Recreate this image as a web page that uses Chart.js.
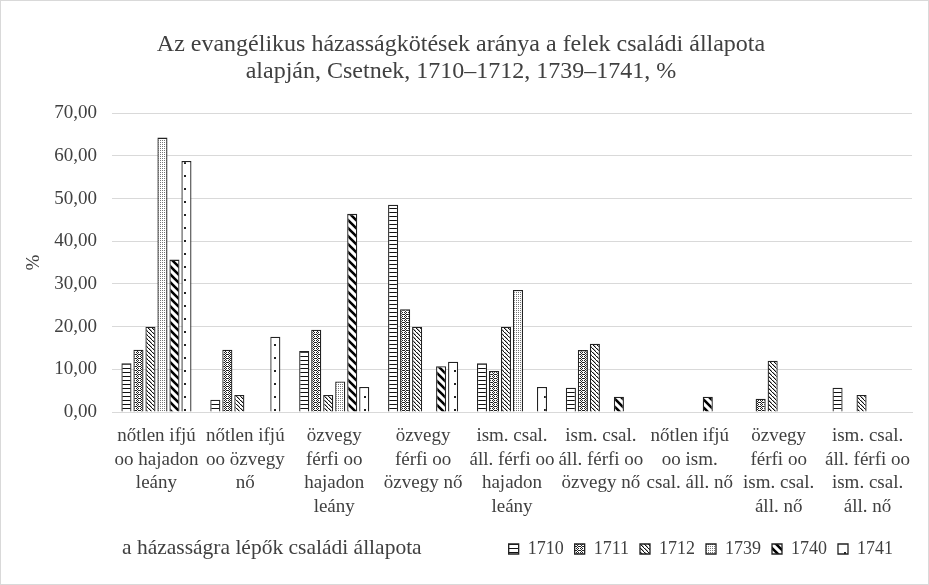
<!DOCTYPE html>
<html>
<head>
<meta charset="utf-8">
<script src="https://cdn.jsdelivr.net/npm/chart.js@4"></script>
<style>
  html, body { margin: 0; padding: 0; background: #fff; }
  #wrap { width: 929px; height: 585px; }
</style>
</head>
<body>
<div id="wrap"><canvas id="myChart" width="929" height="585"></canvas></div>
<script>
// categories (multi-line, as in the source chart)
const categories = [
    ['nőtlen ifjú', 'oo hajadon', 'leány'],
    ['nőtlen ifjú', 'oo özvegy', 'nő'],
    ['özvegy', 'férfi oo', 'hajadon', 'leány'],
    ['özvegy', 'férfi oo', 'özvegy nő'],
    ['ism. csal.', 'áll. férfi oo', 'hajadon', 'leány'],
    ['ism. csal.', 'áll. férfi oo', 'özvegy nő'],
    ['nőtlen ifjú', 'oo ism.', 'csal. áll. nő'],
    ['özvegy', 'férfi oo', 'ism. csal.', 'áll. nő'],
    ['ism. csal.', 'áll. férfi oo', 'ism. csal.', 'áll. nő']
];

const years = ['1710', '1711', '1712', '1739', '1740', '1741'];

const v1710 = [11.43, 2.86, 14.29, 48.57, 11.43, 5.71, 0, 0, 5.71];
const v1711 = [14.6, 14.6, 19.3, 24.1, 9.6, 14.5, 0, 3.1, 0];
const v1712 = [20.0, 4.0, 4.0, 20.0, 20.0, 16.0, 0, 12.0, 4.0];
const v1739 = [64.29, 0, 7.14, 0, 28.57, 0, 0, 0, 0];
const v1740 = [35.71, 0, 46.43, 10.71, 0, 3.57, 3.57, 0, 0];
const v1741 = [58.82, 17.65, 5.88, 11.76, 5.88, 0, 0, 0, 0];

const yTicks = [0, 10, 20, 30, 40, 50, 60, 70];

const titleLines = ['Az evangélikus házasságkötések aránya a felek családi állapota',
                    'alapján, Csetnek, 1710–1712, 1739–1741, %'];
const xTitle = 'a házasságra lépők családi állapota';
const yTitle = '%';

const FONT = "'Liberation Serif', 'Times New Roman', serif";
const TXT = '#404040';

// fill patterns, roughly like the Excel ones
function makePattern(kind) {
    let c = document.createElement('canvas');
    let g = c.getContext('2d');
    if (kind == 'hlines') {
        c.width = 4; c.height = 4;
        g.fillStyle = '#fff'; g.fillRect(0, 0, 4, 4);
        g.fillStyle = '#111'; g.fillRect(0, 0, 4, 1);
    } else if (kind == 'diamond') {
        c.width = 4; c.height = 4;
        g.fillStyle = '#fff'; g.fillRect(0, 0, 4, 4);
        g.fillStyle = '#222';
        g.fillRect(0, 0, 1, 1); g.fillRect(2, 0, 1, 1);
        g.fillRect(1, 1, 1, 1); g.fillRect(3, 2, 1, 1);
        g.fillRect(0, 2, 1, 1); g.fillRect(1, 3, 1, 1); g.fillRect(2, 2, 1, 1);
    } else if (kind == 'diag') {
        c.width = 4; c.height = 4;
        g.fillStyle = '#fff'; g.fillRect(0, 0, 4, 4);
        g.fillStyle = '#111';
        for (let i = 0; i < 4; i++) g.fillRect(i, i, 1, 1);
        g.fillStyle = '#aaa';
        for (let i = 0; i < 3; i++) g.fillRect(i + 1, i, 1, 1);
    } else if (kind == 'dots') {
        c.width = 2; c.height = 2;
        g.fillStyle = '#fff'; g.fillRect(0, 0, 2, 2);
        g.fillStyle = '#777'; g.fillRect(0, 0, 1, 1);
    } else if (kind == 'bigdiag') {
        c.width = 8; c.height = 8;
        g.fillStyle = '#fff'; g.fillRect(0, 0, 8, 8);
        g.strokeStyle = '#000'; g.lineWidth = 2.6;
        g.beginPath();
        g.moveTo(-2, -2); g.lineTo(10, 10);
        g.moveTo(-10, -2); g.lineTo(2, 10);
        g.moveTo(6, -2); g.lineTo(18, 10);
        g.stroke();
    } else {
        c.width = 10; c.height = 13;
        g.fillStyle = '#fff'; g.fillRect(0, 0, 10, 13);
        g.fillStyle = '#222'; g.fillRect(4, 6, 2, 2);
    }
    return g.createPattern(c, 'repeat');
}

const fills = [makePattern('hlines'), makePattern('diamond'), makePattern('diag'),
               makePattern('dots'), makePattern('bigdiag'), makePattern('sparse')];
const series = [v1710, v1711, v1712, v1739, v1740, v1741];

// axis title sits on the legend row, to the left; also the outer frame
const sideTitle = {
    id: 'sideTitle',
    afterLayout(chart) {
        // legend row ends a bit before the plot's right edge
        chart.legend.right -= 8;
    },
    afterDraw(chart) {
        let ctx = chart.ctx;
        let lg = chart.legend;
        ctx.save();
        ctx.font = '21.5px ' + FONT;
        ctx.fillStyle = TXT;
        ctx.textBaseline = 'middle';
        ctx.textAlign = 'left';
        ctx.fillText(xTitle, 122, lg.top + lg.height / 2);
        ctx.strokeStyle = '#d9d9d9';
        ctx.lineWidth = 1;
        ctx.strokeRect(0.5, 0.5, chart.width - 1, chart.height - 1);
        ctx.restore();
    }
};

function makeChart() {
    let ctx = document.getElementById('myChart').getContext('2d');
    new Chart(ctx, {
        type: 'bar',
        data: {
            labels: categories,
            datasets: years.map(function(y, i) {
                return {
                    label: y,
                    data: series[i],
                    backgroundColor: fills[i],
                    borderColor: '#222',
                    borderWidth: 1.3,
                    categoryPercentage: 0.81,
                    barPercentage: 0.84
                };
            })
        },
        options: {
            responsive: false,
            animation: false,
            layout: { padding: { left: 10, right: 17, top: 0, bottom: 17 } },
            plugins: {
                title: {
                    display: true,
                    text: titleLines,
                    color: TXT,
                    font: { family: FONT, size: 24, weight: 'normal', lineHeight: 1.13 },
                    padding: { top: 31, bottom: 28 }
                },
                legend: {
                    position: 'bottom',
                    align: 'end',
                    labels: {
                        color: TXT,
                        font: { family: FONT, size: 18 },
                        boxWidth: 10,
                        boxHeight: 10,
                        padding: 11
                    }
                },
                tooltip: { enabled: false }
            },
            scales: {
                x: {
                    grid: { display: false },
                    border: { color: '#d9d9d9' },
                    afterFit: function(s) { s.height = 117; },
                    ticks: {
                        color: TXT,
                        font: { family: FONT, size: 19, lineHeight: 1.25 },
                        maxRotation: 0,
                        autoSkip: false,
                        padding: 4
                    }
                },
                y: {
                    min: 0,
                    max: 70,
                    afterBuildTicks: function(s) { s.ticks = yTicks.map(function(v) { return { value: v }; }); },
                    afterFit: function(s) { s.width = 102; },
                    grid: { color: '#d9d9d9', drawTicks: false },
                    border: { display: false },
                    title: {
                        display: true,
                        text: yTitle,
                        color: TXT,
                        font: { family: FONT, size: 19 },
                        padding: { top: 13 }
                    },
                    ticks: {
                        color: TXT,
                        font: { family: FONT, size: 19 },
                        padding: 15,
                        callback: function(v) { return v.toFixed(2).replace('.', ','); }
                    }
                }
            }
        },
        plugins: [sideTitle]
    });
}

makeChart();
</script>
</body>
</html>
